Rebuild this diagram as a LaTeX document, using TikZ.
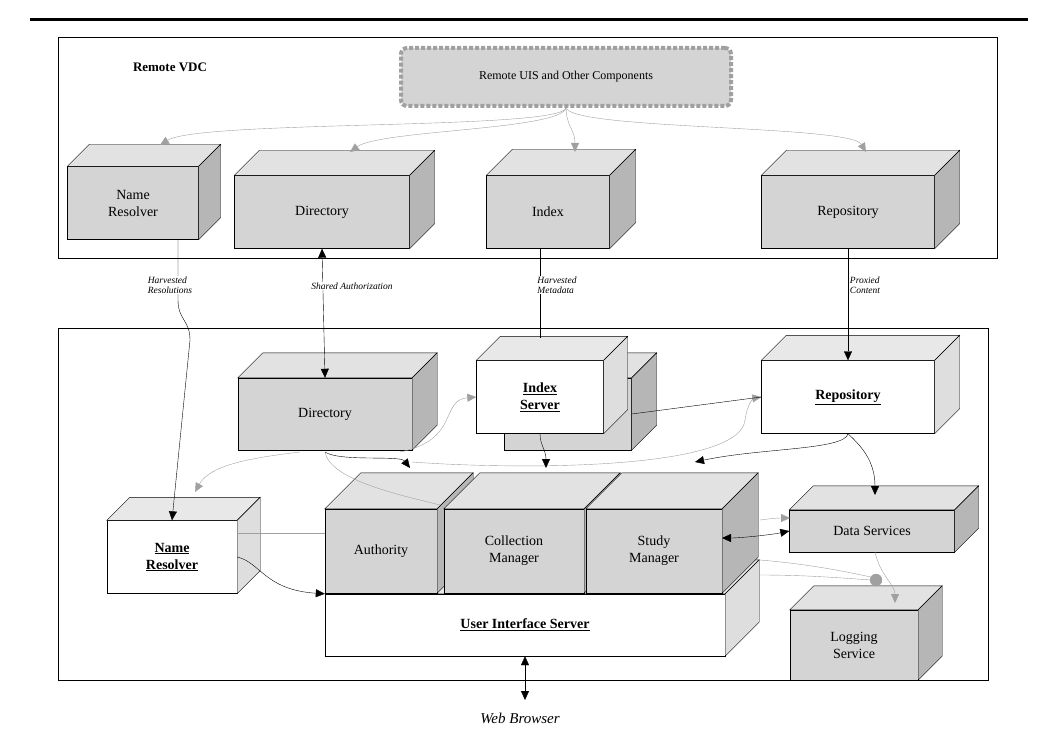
\documentclass[tikz,border=0pt]{standalone}
\usepackage{fontspec}
\setmainfont{Liberation Serif}
\usetikzlibrary{arrows.meta}
\definecolor{gfront}{RGB}{212,212,212}
\definecolor{gtop}{RGB}{226,226,226}
\definecolor{gside}{RGB}{182,182,182}
\definecolor{wfront}{RGB}{255,255,255}
\definecolor{wtop}{RGB}{232,232,232}
\definecolor{wside}{RGB}{222,222,222}
\definecolor{lnk}{RGB}{160,160,160}
% 3D box: name, center, width, height, depth, kind (g/w), text
\newcommand\cubebox[7]{%
  \node[cube, fill=#6front, minimum width=#3pt, minimum height=#4pt] (#1) at #2 {#7};
  \draw[fill=#6top] (#1.north west) -- ++(#5,-#5) -- ([shift={(#5,-#5)}]#1.north east) -- (#1.north east) -- cycle;
  \draw[fill=#6side] (#1.north east) -- ++(#5,-#5) -- ([shift={(#5,-#5)}]#1.south east) -- (#1.south east) -- cycle;
}
\begin{document}
\begin{tikzpicture}[x=1pt,y=-1pt,>={Triangle[length=9pt,width=8pt]}]
\tikzset{
    cube/.style={%
        draw, inner sep=0pt,
        align=center,
        font=\fontsize{14}{17}\selectfont
        },
    lbl/.style={%
        font=\itshape\fontsize{9.5}{10}\selectfont,
        align=left, fill=white, inner sep=1pt
        },
    glink/.style={draw=lnk, ->, >={Triangle[length=9pt,width=8pt,fill=lnk]}},
    blink/.style={draw=black}
}
\useasboundingbox (0,0) rectangle (1052,741);
%%%FRAMES
\draw[line width=3pt] (30,20) -- (1028,20);
\draw (58,37) rectangle (997,258);
\draw (58,328) rectangle (988,680);
\node[font=\bfseries\fontsize{13}{15}\selectfont] (vdc) at (170,67) {Remote VDC};
\node[draw=lnk, line width=4pt, dash pattern=on 4pt off 2pt, fill=gfront, rounded corners=6pt,
      minimum width=330pt, minimum height=58pt, font=\fontsize{12}{14}\selectfont] (ruis) at (566,77)
      {Remote UIS and Other Components};
%%%REMOTE BOXES
\cubebox{rname}{(133,203)}{131}{73}{22}{g}{Name\\Resolver}
\cubebox{rdir}{(322,212)}{175}{73}{25}{g}{Directory}
\cubebox{rindex}{(548,212)}{123}{73}{26}{g}{Index}
\cubebox{rrepo}{(848,212)}{173}{73}{25}{g}{Repository}
%%%LOCAL BOXES
\cubebox{dir}{(325,414)}{174}{72}{25}{g}{Directory}
\cubebox{ixback}{(568,414)}{127}{72}{25}{g}{}
\cubebox{ixsrv}{(540,397)}{127}{73}{24}{w}{\underline{\textbf{Index}}\\\underline{\textbf{Server}}}
\cubebox{repo}{(848,397)}{173}{73}{25}{w}{\underline{\textbf{Repository}}}
\cubebox{uis}{(525,625)}{400}{62}{34}{w}{\underline{\textbf{User Interface Server}}}
\cubebox{auth}{(381,551)}{112}{84}{36}{g}{Authority}
\cubebox{coll}{(514,551)}{140}{84}{36}{g}{Collection\\Manager}
\cubebox{study}{(654,551)}{136}{84}{36}{g}{Study\\Manager}
\cubebox{name}{(172,557)}{130}{73}{23}{w}{\underline{\textbf{Name}}\\\underline{\textbf{Resolver}}}
\cubebox{data}{(872,531)}{165}{42}{24}{g}{Data Services}
\cubebox{log}{(854,645)}{128}{70}{24}{g}{Logging\\Service}
%%%REMOTE LINKS
\draw[glink] (ruis.south) .. controls (560,130) and (200,120) .. (160,145);
\draw[glink] (ruis.south) .. controls (560,130) and (380,130) .. (350,152);
\draw[glink] (ruis.south) .. controls (566,125) and (575,130) .. (575,152);
\draw[glink] (ruis.south) .. controls (575,130) and (850,125) .. (866,152);
%%%HARVESTING
\draw[->] (178,240) -- (178,300) .. controls (178,320) and (190,320) .. (190,340) -- (name.north);
\draw[<->] (rdir.south) -- (dir.north);
\draw (540,248) -- (540,338);
\draw[->] (rrepo.south) -- (repo.north);
\node[lbl] (lres) at (170,285) {Harvested\\Resolutions};
\node[lbl] (lauth) at (352,286) {Shared Authorization};
\node[lbl] (lmeta) at (557,285) {Harvested\\Metadata};
\node[lbl] (lprox) at (865,285) {Proxied\\Content};
%%%LOCAL LINKS
\draw[lnk] (name.east |- 0,533) -- (auth.west |- 0,533);
\draw[glink] (300,452) .. controls (250,458) and (210,465) .. (195,492);
\draw[glink] (400,452) .. controls (460,440) and (440,400) .. (ixsrv.west);
\draw[lnk] (412,462) .. controls (520,470) and (740,470) .. (745,420);
\draw[glink] (745,420) .. controls (748,400) and (755,398) .. (repo.west);
\draw[lnk] (325,452) .. controls (330,480) and (400,495) .. (440,505);
\draw (ixback.east) -- (repo.west);
\draw[->] (ixsrv.south) .. controls (540,445) and (546,450) .. (546,468);
\draw[->] (325,452) .. controls (340,462) and (400,455) .. (410,468);
\draw[->] (repo.south) .. controls (845,450) and (760,448) .. (695,462);
\draw[->] (repo.south) .. controls (860,445) and (875,460) .. (875,495);
\draw[<->] (data.west) .. controls (770,535) and (740,538) .. (722,538);
\draw[glink] (760,520) .. controls (775,518) and (780,518) .. (790,518);
\draw[lnk] (760,560) .. controls (820,565) and (860,575) .. (876,578);
\draw[lnk] (760,575) .. controls (820,575) and (860,580) .. (876,580);
\draw[glink] (875,552) .. controls (880,575) and (895,585) .. (895,603);
\draw[fill=lnk, draw=lnk] (876,580) circle (6pt);
\draw[->] (name.east) .. controls (260,562) and (265,590) .. (uis.north west);
\draw[<->] (uis.south) -- (525,700);
\node[font=\itshape\fontsize{15}{17}\selectfont] (web) at (520,718) {Web Browser};
\end{tikzpicture}
\end{document}
